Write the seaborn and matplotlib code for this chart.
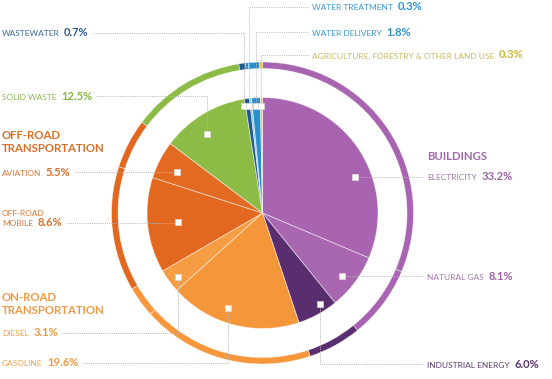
import numpy as np
import matplotlib
matplotlib.use('Agg')
import matplotlib.pyplot as plt
import seaborn as sns

# slices, clockwise from 12 o'clock
categories = ['ELECTRICITY', 'NATURAL GAS', 'INDUSTRIAL ENERGY', 'GASOLINE', 'DIESEL',
              'OFF-ROAD\nMOBILE', 'AVIATION', 'SOLID WASTE', 'WASTEWATER',
              'WATER TREATMENT', 'WATER DELIVERY', 'AGRICULTURE, FORESTRY & OTHER LAND USE']
# printed shares
pct_labels = ['33.2%', '8.1%', '6.0%', '19.6%', '3.1%', '8.6%', '5.5%', '12.5%',
              '0.7%', '0.3%', '1.8%', '0.3%']
# slice sizes as drawn in the picture
shares = [31.3, 7.8, 5.7, 18.4, 3.3, 13.3, 5.3, 12.2, 0.7, 0.3, 1.2, 0.3]
groups = ['Buildings', 'Buildings', 'Industrial', 'On-road', 'On-road', 'Off-road', 'Off-road',
          'Solid waste', 'Wastewater', 'Water', 'Water', 'Agriculture']

slice_colors = ['#A864B0', '#A967B2', '#5A2D6E', '#F5963A', '#F69C42', '#E2671F', '#E26A22',
                '#8CBB46', '#23588D', '#7FC4EA', '#2B8FCE', '#E6C53B']
group_colors = {'Buildings': '#A864B0', 'Industrial': '#5A2D6E', 'On-road': '#F5973A',
                'Off-road': '#E2671F', 'Solid waste': '#8CBB46', 'Wastewater': '#23588D',
                'Water': '#2B8FCE', 'Agriculture': '#E6C53B'}
name_colors = ['#A07AAA', '#A07AAA', '#5E3D73', '#EEA052', '#EEA052', '#D9773A', '#D9773A',
               '#8DBA50', '#3F6A96', '#3C98CF', '#3C98CF', '#C7B865']
pct_colors = ['#9A62A3', '#9A62A3', '#5A3570', '#EC9A42', '#EC9A42', '#D86F2A', '#D86F2A',
              '#86B544', '#2F5F90', '#2F93CC', '#2F93CC', '#CDB640']

# layout (pixels, y from top)
W, H = 552, 379
CX, CY = 262.5, 213
R_PIE, R_RING, RING_W = 115.5, 151, 6.5
label_x = [427, 427, 427, 2, 2, 2, 2, 2, 2, 312, 312, 312]
label_y = [177, 276, 364, 363, 333, 223, 172, 96, 33, 7, 32, 55]
marker_frac = [0.61, 0.54, 0.33, 0.58, 0.42, 0.50, 0.40, 0.41, -0.21, -0.41, 0.39, 0.5]
marker_r = [0.855, 0.88, 0.93, 0.876, 0.92, 0.74, 0.816, 0.834, 0.94, 0.933, 0.93, 0.926]

headers = [('BUILDINGS', 427, 156, '#A06BA8'),
           ('OFF-ROAD', 2, 135, '#D9702A'), ('TRANSPORTATION', 2, 148, '#D9702A'),
           ('ON-ROAD', 2, 297, '#EE9A45'), ('TRANSPORTATION', 2, 310, '#EE9A45')]

sns.set_style('white')
plt.rcParams['font.family'] = ['Lato', 'DejaVu Sans']

fig = plt.figure(figsize=(W / 100, H / 100), dpi=100)
ax = fig.add_axes([0, 0, 1, 1])

ring_colors = [group_colors[g] for g in groups]
ax.pie(shares, colors=slice_colors, startangle=90, counterclock=False,
       center=(CX, H - CY), radius=R_PIE,
       wedgeprops=dict(edgecolor=(1, 1, 1, 0.55), linewidth=0.6))
ax.pie(shares, colors=ring_colors, startangle=90, counterclock=False,
       center=(CX, H - CY), radius=R_RING,
       wedgeprops=dict(width=RING_W, edgecolor=(1, 1, 1, 0.6), linewidth=0.5))
ax.set_xlim(0, W)
ax.set_ylim(0, H)
ax.axis('off')

rend = fig.canvas.get_renderer()

# wedge angles
vals = np.array(shares, dtype=float)
span = vals / vals.sum() * 360
start = 90 - (np.cumsum(span) - span)

for txt, x, y, c in headers:
    ax.text(x, H - (y + 4), txt, fontsize=8.2, fontweight='bold', color=c, va='baseline')

line_kw = dict(color='#B8B8B8', lw=0.7, linestyle=(0, (1, 1.2)), zorder=3)

for i, name in enumerate(categories):
    ang = np.deg2rad(start[i] - marker_frac[i] * span[i])
    mx = CX + marker_r[i] * R_PIE * np.cos(ang)
    my = H - CY + marker_r[i] * R_PIE * np.sin(ang)

    lines = name.split('\n')
    yb = H - (label_y[i] + 3.5)
    for k, extra in enumerate(lines[:-1]):
        ax.text(label_x[i], yb + 11 * (len(lines) - 1 - k), extra, fontsize=6,
                color=name_colors[i], va='baseline')
    t1 = ax.text(label_x[i], yb, lines[-1], fontsize=6, color=name_colors[i], va='baseline')
    bb = t1.get_window_extent(rend)
    t2 = ax.text(bb.x1 + 4.5, yb, pct_labels[i], fontsize=8, fontweight='bold',
                 color=pct_colors[i], va='baseline')
    bb2 = t2.get_window_extent(rend)

    ly = H - label_y[i]
    if label_x[i] < CX:
        x0 = bb2.x1 + 4
    else:
        x0 = label_x[i] - 4
    ax.plot([x0, mx, mx], [ly, ly, my], **line_kw)
    ax.plot(mx, my, marker='s', ms=4.3, mfc='white', mec='#D8D8D8', mew=0.5, zorder=4)

fig.savefig('out.png', dpi=100)
